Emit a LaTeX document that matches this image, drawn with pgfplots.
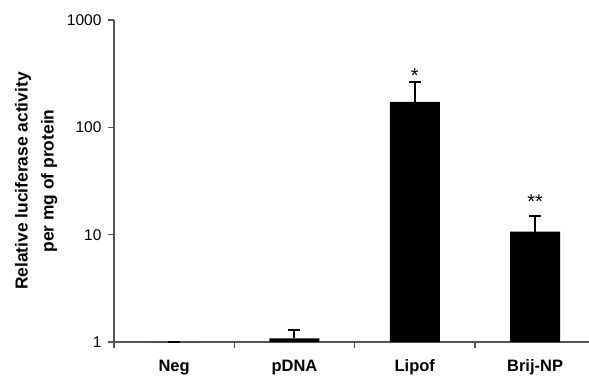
\documentclass[border=0pt]{standalone}
\usepackage{pgfplots}
\pgfplotsset{compat=1.18}
\usepackage{fontspec}
\setmainfont{Liberation Sans}
\definecolor{axgray}{HTML}{555555}
\begin{document}
\begin{tikzpicture}[x=1pt,y=1pt]
\useasboundingbox (0,0) rectangle (589,376);
\begin{axis}[
  at={(114pt,34pt)}, anchor=south west,
  scale only axis, width=475pt, height=322pt,
  ymode=log, ymin=1, ymax=1000,
  xmin=-0.5, xmax=3.448,
  axis x line*=bottom, axis y line*=left,
  axis line style={draw=axgray, line width=1.2pt},
  every tick/.style={draw=axgray, line width=1.2pt},
  tick align=outside, major tick length=6pt,
  yminorticks=false,
  ytick={1,10,100,1000}, yticklabels={1,10,100,1000},
  xtick={-0.5,0.5,1.5,2.5}, xticklabels={},
  extra x ticks={0,1,2,3},
  extra x tick labels={Neg,pDNA,Lipof,Brij-NP},
  extra x tick style={major tick length=0pt,
    xticklabel style={font=\bfseries\fontsize{16.5}{18}\selectfont, yshift=-14.5pt}},
  /pgf/number format/assume math mode=true,
  yticklabel style={font=\fontsize{15.5}{18}\selectfont, xshift=-3pt},
  ylabel={Relative luciferase activity\\per mg of protein},
  ylabel style={at={(axis description cs:-0.164,0.5)}, anchor=center, align=center,
    font=\bfseries\fontsize{17.4}{26}\selectfont},
  clip=false,
]
\addplot[ybar, bar width=50pt, fill=black, draw=none,
  error bars/.cd, y dir=plus, y explicit,
  error bar style={line width=2pt, black},
  error mark options={line width=2pt, black, mark size=6pt, rotate=90}]
  table[x=x, y=y, y error=e] {
x y e
0 1.0 0
1 1.08 0.21
2 173 94
3 10.7 4.3
};
\node[anchor=base, font=\fontsize{20}{22}\selectfont] at (axis cs:2,262) {*};
\node[anchor=base, font=\fontsize{20}{22}\selectfont] at (axis cs:3,17.4) {**};
\end{axis}
\end{tikzpicture}
\end{document}
